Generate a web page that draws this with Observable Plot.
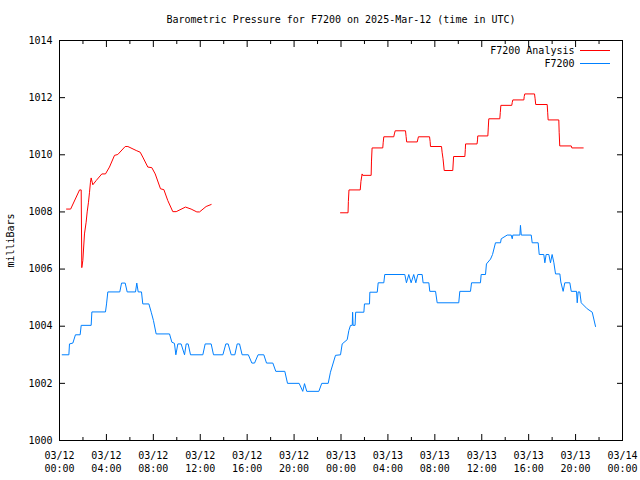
<!DOCTYPE html>
<html><head><meta charset="utf-8">
<script src="https://cdn.jsdelivr.net/npm/d3@7"></script>
<script src="https://cdn.jsdelivr.net/npm/@observablehq/plot@0.6"></script>
<style>body{margin:0;background:#fff}</style>
</head><body><div id="chart"></div>
<script>
const title = "Barometric Pressure for F7200 on 2025-Mar-12 (time in UTC)";
const yLabel = "milliBars";
const seriesNames = ["F7200 Analysis", "F7200"];
const seriesColors = ["#ff0000", "#0080ff"];
const startTime = "2025-03-12T00:00:00Z";
const endTime = "2025-03-14T00:00:00Z";
const yTicks = [1000, 1002, 1004, 1006, 1008, 1010, 1012, 1014];

// [hours since 03/12 00:00 UTC, millibars]
const analysisPart1 = [
  [0.6,1008.1],[0.95,1008.1],[1.71,1008.77],[1.85,1008.77],[1.9,1006.05],[1.99,1006.3],
  [2.13,1007.23],[2.27,1007.64],[2.36,1008.0],[2.47,1008.34],[2.56,1008.69],[2.64,1009.04],
  [2.7,1009.19],[2.84,1008.95],[3.13,1009.1],[3.61,1009.33],[3.92,1009.33],[4.26,1009.57],
  [4.69,1009.98],[4.97,1010.01],[5.6,1010.29],[5.83,1010.29],[6.54,1010.15],[6.88,1010.09],
  [7.1,1009.92],[7.53,1009.57],[7.87,1009.55],[8.16,1009.33],[8.61,1008.81],[8.9,1008.78],
  [9.23,1008.4],[9.66,1008.01],[9.95,1008.01],[10.74,1008.17],[11.22,1008.1],[11.71,1008.0],
  [11.94,1008.0],[12.5,1008.19],[12.93,1008.26]
];
const analysisPart2 = [
  [23.96,1007.97],[24.6,1007.97],[24.63,1008.37],[24.68,1008.77],[25.64,1008.77],[25.7,1009.07],
  [25.8,1009.33],[25.85,1009.28],[26.57,1009.28],[26.6,1009.78],[26.65,1010.24],[27.56,1010.24],
  [27.6,1010.44],[27.65,1010.63],[28.5,1010.63],[28.55,1010.73],[28.62,1010.84],[29.5,1010.84],
  [29.55,1010.64],[29.6,1010.45],[30.5,1010.45],[30.6,1010.63],[31.55,1010.63],[31.6,1010.46],
  [31.63,1010.29],[32.57,1010.29],[32.62,1010.09],[32.7,1009.86],[32.8,1009.45],[33.53,1009.45],
  [33.6,1009.94],[34.56,1009.94],[34.6,1010.19],[34.62,1010.38],[35.6,1010.38],[35.64,1010.52],
  [35.66,1010.66],[36.52,1010.66],[36.56,1010.97],[36.6,1011.26],[37.54,1011.26],[37.58,1011.48],
  [37.63,1011.73],[38.56,1011.73],[38.6,1011.83],[38.65,1011.92],[39.59,1011.92],[39.62,1012.04],
  [39.67,1012.13],[40.5,1012.13],[40.55,1011.96],[40.6,1011.76],[41.58,1011.76],[41.62,1011.49],
  [41.66,1011.22],[42.57,1011.22],[42.6,1010.79],[42.65,1010.31],[43.63,1010.31],[43.68,1010.24],
  [44.65,1010.24]
];
const stationObs = [
  [0.23,1003.0],[0.8,1003.0],[0.85,1003.38],[1.14,1003.41],[1.36,1003.7],[1.76,1003.7],
  [1.85,1004.03],[2.7,1004.03],[2.76,1004.5],[3.92,1004.5],[4.01,1004.78],[4.12,1005.2],
  [5.14,1005.2],[5.29,1005.51],[5.6,1005.51],[5.77,1005.2],[6.48,1005.2],[6.59,1005.51],
  [6.71,1005.2],[6.99,1005.2],[7.1,1004.78],[7.62,1004.78],[7.82,1004.49],[8.01,1004.2],
  [8.24,1003.73],[9.38,1003.73],[9.58,1003.44],[9.8,1003.4],[9.92,1003.0],[10.09,1003.38],
  [10.37,1003.38],[10.66,1003.0],[10.8,1003.38],[10.97,1003.38],[11.17,1003.0],[12.22,1003.0],
  [12.42,1003.38],[12.93,1003.38],[13.13,1003.0],[13.93,1003.0],[14.18,1003.38],[14.38,1003.38],
  [14.64,1003.0],[14.95,1003.0],[15.15,1003.38],[15.35,1003.38],[15.57,1003.0],[16.1,1003.0],
  [16.4,1002.71],[16.63,1002.71],[16.93,1003.0],[17.42,1003.0],[17.65,1002.71],[18.19,1002.71],
  [18.44,1002.42],[19.21,1002.42],[19.44,1002.0],[20.43,1002.0],[20.74,1001.72],[20.89,1001.99],
  [21.08,1001.72],[22.11,1001.72],[22.36,1002.0],[22.91,1002.0],[23.1,1002.39],[23.53,1002.98],
  [23.96,1003.0],[24.1,1003.38],[24.53,1003.53],[24.67,1003.85],[24.81,1004.03],[24.96,1004.03],
  [24.99,1004.49],[25.03,1004.03],[25.2,1004.03],[25.25,1004.49],[25.95,1004.49],[26.0,1004.78],
  [26.43,1004.78],[26.46,1005.19],[27.09,1005.19],[27.17,1005.52],[27.65,1005.52],[27.73,1005.81],
  [29.44,1005.81],[29.58,1005.52],[29.78,1005.81],[29.98,1005.52],[30.2,1005.81],[30.38,1005.52],
  [30.55,1005.81],[30.92,1005.81],[31.0,1005.52],[31.49,1005.52],[31.57,1005.22],[32.06,1005.22],
  [32.2,1004.82],[34.04,1004.82],[34.13,1005.22],[35.04,1005.22],[35.13,1005.52],[35.89,1005.52],
  [35.95,1005.81],[36.32,1005.81],[36.4,1006.18],[36.75,1006.35],[36.92,1006.51],[37.17,1006.92],
  [37.6,1006.92],[37.66,1007.06],[38.17,1007.19],[38.51,1007.19],[38.6,1007.06],[38.65,1007.19],
  [39.25,1007.19],[39.3,1007.53],[39.37,1007.19],[40.22,1007.19],[40.3,1006.92],[40.81,1006.92],
  [40.9,1006.51],[41.29,1006.51],[41.38,1006.22],[41.49,1006.51],[41.72,1006.51],[41.86,1006.22],
  [42.0,1006.51],[42.15,1006.22],[42.29,1005.83],[42.66,1005.83],[42.74,1005.55],[42.94,1005.22],
  [43.08,1005.52],[43.51,1005.52],[43.63,1005.22],[44.08,1005.22],[44.14,1004.82],[44.22,1005.2],
  [44.36,1005.2],[44.48,1004.82],[44.99,1004.61],[45.42,1004.49],[45.7,1003.99]
];

const t0 = new Date(startTime);
const t1 = new Date(endTime);
const toDate = h => new Date(+t0 + h * 3600e3);
const analysisRows = [
  ...analysisPart1.map(([h, v]) => ({time: toDate(h), mb: v, seg: "a"})),
  ...analysisPart2.map(([h, v]) => ({time: toDate(h), mb: v, seg: "b"}))
];
const obsRows = stationObs.map(([h, v]) => ({time: toDate(h), mb: v}));
const majorTicks = d3.utcHour.every(4).range(t0, new Date(+t1 + 1));
const minorTicks = d3.utcHour.every(2).range(t0, new Date(+t1 + 1)).filter(d => d.getUTCHours() % 4 !== 0);
const fmt = d3.utcFormat("%m/%d\n%H:%M");
const font = "DejaVu Sans Mono";
const blank = () => "";

const svg = Plot.plot({
  width: 640, height: 480,
  marginLeft: 59, marginRight: 18, marginTop: 40, marginBottom: 40,
  style: {fontFamily: font, fontSize: "10px", background: "white", color: "black"},
  x: {type: "utc", domain: [t0, t1]},
  y: {domain: [1000, 1014]},
  marks: [
    Plot.frame({stroke: "black"}),
    // inward ticks, mirrored on all four sides
    Plot.axisX({anchor: "bottom", ticks: majorTicks, tickSize: 6, dy: -6, tickFormat: blank, label: null}),
    Plot.axisX({anchor: "bottom", ticks: minorTicks, tickSize: 3, dy: -3, tickFormat: blank, label: null}),
    Plot.axisX({anchor: "top", ticks: majorTicks, tickSize: 6, dy: 6, tickFormat: blank, label: null}),
    Plot.axisX({anchor: "top", ticks: minorTicks, tickSize: 3, dy: 3, tickFormat: blank, label: null}),
    Plot.axisY({anchor: "left", ticks: yTicks, tickSize: 6, dx: 6, tickFormat: blank, label: null}),
    Plot.axisY({anchor: "right", ticks: yTicks, tickSize: 6, dx: -6, tickFormat: blank, label: null}),
    // labels
    Plot.axisX({anchor: "bottom", ticks: majorTicks, tickSize: 0, tickPadding: 9, tickFormat: fmt, lineHeight: 1.3, label: null, fontSize: 10}),
    Plot.axisY({anchor: "left", ticks: yTicks, tickSize: 0, tickPadding: 7, tickFormat: d => String(d),
      label: yLabel, labelAnchor: "center", labelOffset: 53, labelArrow: "none", fontSize: 10}),
    Plot.text([title], {frameAnchor: "top", lineAnchor: "middle", dy: -21, fontSize: 10}),
    Plot.text([seriesNames[0]], {frameAnchor: "top-right", lineAnchor: "middle", dx: -48, dy: 10, textAnchor: "end", fontSize: 10}),
    Plot.text([seriesNames[1]], {frameAnchor: "top-right", lineAnchor: "middle", dx: -48, dy: 23, textAnchor: "end", fontSize: 10}),
    // data
    Plot.line(analysisRows, {x: "time", y: "mb", z: "seg", stroke: seriesColors[0], strokeWidth: 1}),
    Plot.line(obsRows, {x: "time", y: "mb", stroke: seriesColors[1], strokeWidth: 1})
  ]
});

// legend sample lines
const g = d3.select(svg).append("g");
[0, 1].forEach(i => {
  g.append("line")
    .attr("x1", 640 - 18 - 42).attr("x2", 640 - 18 - 12)
    .attr("y1", 40 + 10 + 13 * i + 0.5).attr("y2", 40 + 10 + 13 * i + 0.5)
    .attr("stroke", seriesColors[i]).attr("stroke-width", 1);
});

document.getElementById("chart").appendChild(svg);
</script>
</body></html>
